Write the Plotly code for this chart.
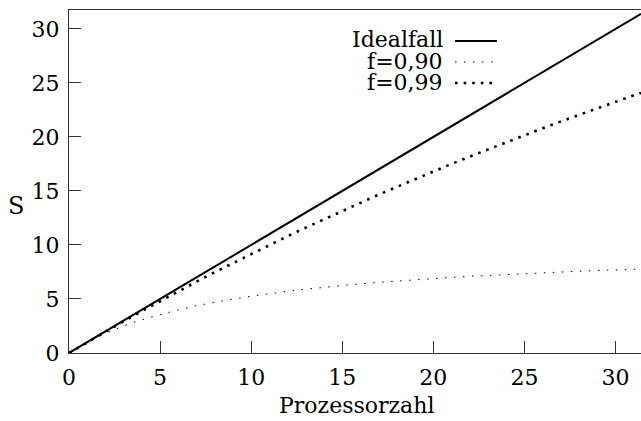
import plotly.graph_objects as go

# Data
p = [0, 1, 2, 3, 4, 5, 6, 7, 8, 9, 10, 11, 12, 13, 14, 15, 16, 17, 18, 19, 20,
     21, 22, 23, 24, 25, 26, 27, 28, 29, 30, 31, 31.4]
s_f090 = [0, 1.0, 1.82, 2.5, 3.08, 3.57, 4.0, 4.38, 4.71, 5.0, 5.26, 5.5, 5.71,
          5.91, 6.09, 6.25, 6.4, 6.54, 6.67, 6.79, 6.9, 7.0, 7.1, 7.19, 7.27,
          7.35, 7.43, 7.5, 7.57, 7.63, 7.69, 7.75, 7.77]
s_f099 = [0, 1.0, 1.98, 2.94, 3.88, 4.81, 5.71, 6.6, 7.48, 8.33, 9.17, 10.0,
          10.81, 11.61, 12.39, 13.16, 13.91, 14.66, 15.38, 16.1, 16.81, 17.5,
          18.18, 18.85, 19.51, 20.16, 20.8, 21.43, 22.05, 22.66, 23.26, 23.85, 24.08]
ideal_x = [0, 31.4]
ideal_y = [0, 31.4]

legend_names = ["Idealfall", "f=0,90", "f=0,99"]
x_ticks = [0, 5, 10, 15, 20, 25, 30]
y_ticks = [0, 5, 10, 15, 20, 25, 30]

FONT = "DejaVu Serif, Liberation Serif, serif"
FS = 22

W, H = 641, 421
# plot area in page pixels
PL, PR, PT, PB = 69, 641, 10, 353
L, R, T, B = PL, W - PR, PT, H - PB

fig = go.Figure()
fig.add_trace(go.Scatter(x=ideal_x, y=ideal_y, mode="lines",
                         line=dict(color="black", width=2), name=legend_names[0]))
fig.add_trace(go.Scatter(x=p, y=s_f090, mode="lines",
                         line=dict(color="black", width=1, dash="1.5px,7.5px"),
                         name=legend_names[1]))
fig.add_trace(go.Scatter(x=p, y=s_f099, mode="lines",
                         line=dict(color="black", width=2.6, dash="2.6px,6px"),
                         name=legend_names[2]))

pw = PR - PL
ph = PB - PT
def px(xp):
    return (xp - PL) / pw
def py(yp):
    return (PB - yp) / ph

rows = [40, 61, 82]
styles = [dict(color="black", width=2),
          dict(color="black", width=1, dash="1.5px,7.5px"),
          dict(color="black", width=2.6, dash="2.6px,6px")]
for name, yr, st in zip(legend_names, rows, styles):
    fig.add_annotation(x=px(444), y=py(yr), xref="paper", yref="paper",
                       text=name, showarrow=False, xanchor="right", yanchor="middle",
                       borderpad=0,
                       font=dict(family=FONT, size=FS, color="black"))
    fig.add_shape(type="line", xref="paper", yref="paper",
                  x0=px(455), x1=px(497), y0=py(yr + 1), y1=py(yr + 1), line=st)

# y-axis title (upright, as in reference)
fig.add_annotation(x=px(16), y=py(206), xref="paper", yref="paper", text="S",
                   showarrow=False, xanchor="center", yanchor="middle",
                   font=dict(family=FONT, size=FS + 2, color="black"))

# x-axis title
fig.add_annotation(x=px(356), y=py(406), xref="paper", yref="paper", text="Prozessorzahl",
                   showarrow=False, xanchor="center", yanchor="middle",
                   font=dict(family=FONT, size=FS, color="black"))

axis_common = dict(showline=True, linecolor="#333", linewidth=1.3,
                   ticks="inside", ticklen=12, tickwidth=1.2, tickcolor="#333",
                   showgrid=False, zeroline=False,
                   tickfont=dict(family=FONT, size=FS, color="black"))

fig.update_xaxes(range=[0, 31.4], tickvals=x_ticks, mirror=True,
                 ticklabelstandoff=4, **axis_common)
fig.update_yaxes(range=[0, 31.75], tickvals=y_ticks,
                 ticklabelstandoff=4, **axis_common)

fig.update_layout(width=W, height=H, margin=dict(l=L, r=R, t=T, b=B, pad=0),
                  paper_bgcolor="white", plot_bgcolor="white", showlegend=False)

fig.write_html("out.html",
               config={"displayModeBar": False},
               post_script="document.body.style.margin='0';"
                           "document.body.style.overflow='hidden';")
